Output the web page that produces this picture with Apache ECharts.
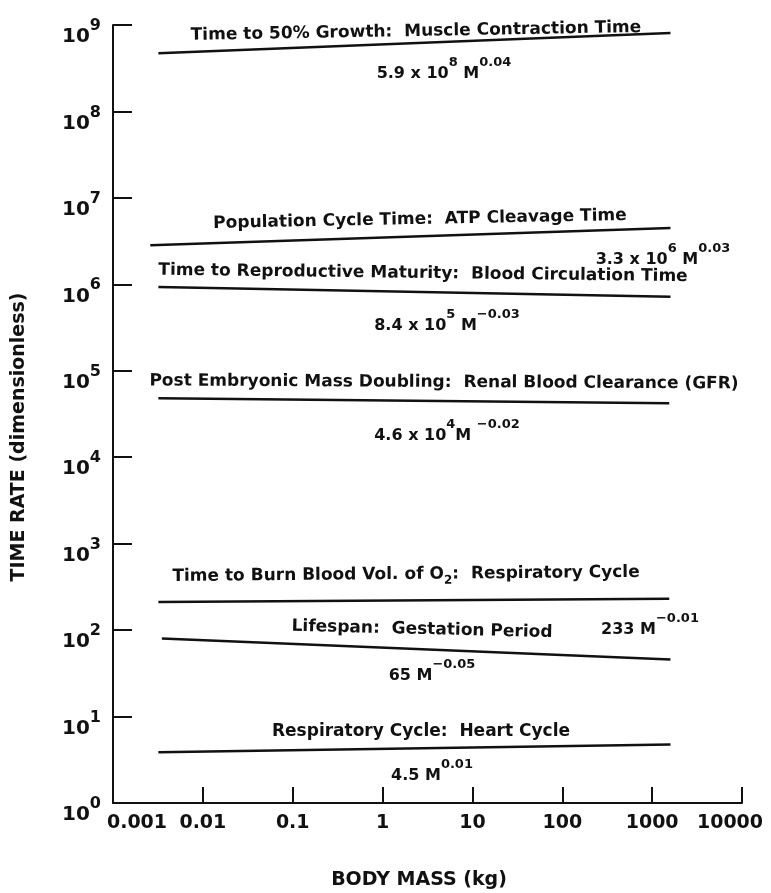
<!DOCTYPE html>
<html><head><meta charset="utf-8">
<script src="https://cdn.jsdelivr.net/npm/echarts@6/dist/echarts.min.js"></script>
<style>html,body{margin:0;padding:0;background:#fff}#c{width:771px;height:893px}</style>
</head><body><div id="c"></div>
<script>
// ---- data ----
const xTickLabels = ['0.001', '0.01', '0.1', '1', '10', '100', '1000', '10000'];
const yTickExponents = ['0', '1', '2', '3', '4', '5', '6', '7', '8', '9'];
const relationNames = [
  'Time to 50% Growth:  Muscle Contraction Time',
  'Population Cycle Time:  ATP Cleavage Time',
  'Time to Reproductive Maturity:  Blood Circulation Time',
  'Post Embryonic Mass Doubling:  Renal Blood Clearance (GFR)',
  'Time to Burn Blood Vol. of O_{2}:  Respiratory Cycle',
  'Lifespan:  Gestation Period',
  'Respiratory Cycle:  Heart Cycle'
];
const relationFormulas = [
  '5.9 x 10^{8} M^{0.04}',
  '3.3 x 10^{6} M^{0.03}',
  '8.4 x 10^{5} M^{\u22120.03}',
  '4.6 x 10^{4}M ^{\u22120.02}',
  '233 M^{\u22120.01}',
  '65 M^{\u22120.05}',
  '4.5 M^{0.01}'
];
const massStart = [0.0032, 0.0026, 0.0032, 0.0032, 0.0032, 0.0035, 0.0032];
const massEnd   = [1600, 1600, 1600, 1550, 1550, 1600, 1600];
const rateStart = [4.7e8, 2.84e6, 9.3e5, 4.8e4, 211, 80, 3.86];
const rateEnd   = [8.1e8, 4.47e6, 7.2e5, 4.2e4, 231, 45.6, 4.76];

// ---- layout (pixel positions of annotation text) ----
const nameLayout = [
  {x: 416, y: 33, rot: 1.0},
  {x: 420, y: 221, rot: 1.1},
  {x: 423, y: 275, rot: -0.7},
  {x: 444, y: 384, rot: -0.3},
  {x: 406, y: 576, rot: 0.5},
  {x: 422, y: 631, rot: -1.4},
  {x: 421, y: 733, rot: 0}
];
const formulaLayout = [
  {x: 444, y: 68}, {x: 663, y: 254}, {x: 447, y: 320}, {x: 447, y: 430},
  {x: 650, y: 624}, {x: 432, y: 670}, {x: 432, y: 770}
];

const FONT = '"DejaVu Sans", sans-serif';
const INK = '#111';

function toRich(str, plain, up, down) {
  // converts "a^{b}c_{d}" markup to rich text
  let out = '';
  const re = /(\^|_)\{([^}]*)\}/g;
  let last = 0, m;
  while ((m = re.exec(str))) {
    if (m.index > last) out += '{' + plain + '|' + str.slice(last, m.index) + '}';
    out += '{' + (m[1] === '^' ? up : down) + '|' + m[2] + '}';
    last = re.lastIndex;
  }
  if (last < str.length) out += '{' + plain + '|' + str.slice(last) + '}';
  return out;
}

const series = relationNames.map((n, i) => ({
  name: n.replace(/_\{(.*?)\}/g, '$1'),
  type: 'line',
  symbol: 'none',
  silent: true,
  lineStyle: {color: INK, width: 2.5},
  data: [[massStart[i], rateStart[i]], [massEnd[i], rateEnd[i]]]
}));

const graphics = [];
relationNames.forEach((n, i) => {
  const L = nameLayout[i];
  graphics.push({
    type: 'text', x: L.x, y: L.y, rotation: L.rot * Math.PI / 180, silent: true,
    style: {
      text: toRich(n, 't', 'sup', 'sub'),
      align: 'center', verticalAlign: 'middle', fill: INK,
      rich: {
        t: {fontFamily: FONT, fontWeight: 'bold', fontSize: 17, lineHeight: 20, verticalAlign: 'top', fill: INK},
        sub: {fontFamily: FONT, fontWeight: 'bold', fontSize: 12, lineHeight: 12, padding: [9, 0, 0, 0], verticalAlign: 'top', fill: INK}
      }
    }
  });
});
relationFormulas.forEach((f, i) => {
  const L = formulaLayout[i];
  graphics.push({
    type: 'text', x: L.x, y: L.y - 6, silent: true,
    style: {
      text: toRich(f, 'b', 's', 's'),
      align: 'center', verticalAlign: 'middle', fill: INK,
      rich: {
        b: {fontFamily: FONT, fontWeight: 'bold', fontSize: 16, lineHeight: 16, padding: [12, 0, 0, 0], verticalAlign: 'top', fill: INK},
        s: {fontFamily: FONT, fontWeight: 'bold', fontSize: 13, lineHeight: 13, padding: [2, 0, 0, 0], verticalAlign: 'top', fill: INK}
      }
    }
  });
});
// axis titles
graphics.push({
  type: 'text', x: 19, y: 437, rotation: Math.PI / 2, silent: true,
  style: {text: 'TIME RATE (dimensionless)', align: 'center', verticalAlign: 'middle',
    font: 'bold 19px ' + FONT, fill: INK}
});
graphics.push({
  type: 'text', x: 419, y: 880, silent: true,
  style: {text: 'BODY MASS (kg)', align: 'center', verticalAlign: 'middle',
    font: 'bold 19px ' + FONT, fill: INK}
});

const chart = echarts.init(document.getElementById('c'), null, {renderer: 'canvas'});
chart.setOption({
  animation: false,
  backgroundColor: '#fff',
  grid: {left: 113, right: 29, top: 25, bottom: 90, containLabel: false, outerBoundsMode: 'none'},
  xAxis: {
    type: 'log', logBase: 10, min: 0.001, max: 10000, splitNumber: 7,
    axisLine: {lineStyle: {color: INK, width: 2}},
    axisTick: {inside: true, length: 16, lineStyle: {color: INK, width: 2}},
    splitLine: {show: false},
    minorTick: {show: false},
    axisLabel: {
      margin: 11, showMinLabel: true, showMaxLabel: true,
      color: INK, fontFamily: FONT, fontWeight: 'bold', fontSize: 19,
      formatter: function (v) {
        const i = Math.round(Math.log10(v)) + 3;
        const s = xTickLabels[i];
        if (i === 0) return '{first|' + s + '}';
        if (i === xTickLabels.length - 1) return '{last|' + s + '}';
        return '{n|' + s + '}';
      },
      rich: {
        n: {fontFamily: FONT, fontWeight: 'bold', fontSize: 19, color: INK},
        first: {fontFamily: FONT, fontWeight: 'bold', fontSize: 19, color: INK, padding: [0, 0, 0, 48]},
        last: {fontFamily: FONT, fontWeight: 'bold', fontSize: 19, color: INK, padding: [0, 24, 0, 0]}
      }
    }
  },
  yAxis: {
    type: 'log', logBase: 10, min: 1, max: 1e9, splitNumber: 9,
    axisLine: {lineStyle: {color: INK, width: 2}},
    axisTick: {inside: true, length: 19, lineStyle: {color: INK, width: 2}},
    splitLine: {show: false},
    minorTick: {show: false},
    axisLabel: {
      margin: 12, showMinLabel: true, showMaxLabel: true, color: INK,
      formatter: function (v) {
        const i = Math.round(Math.log10(v));
        return '{b|10}{s|' + yTickExponents[i] + '}';
      },
      rich: {
        b: {fontFamily: FONT, fontWeight: 'bold', fontSize: 20, lineHeight: 20, padding: [12, 0, 0, 0], verticalAlign: 'top', color: INK},
        s: {fontFamily: FONT, fontWeight: 'bold', fontSize: 16, lineHeight: 16, padding: [3, 0, 0, 0], verticalAlign: 'top', color: INK}
      }
    }
  },
  series: series,
  graphic: graphics
});
</script>
</body></html>
